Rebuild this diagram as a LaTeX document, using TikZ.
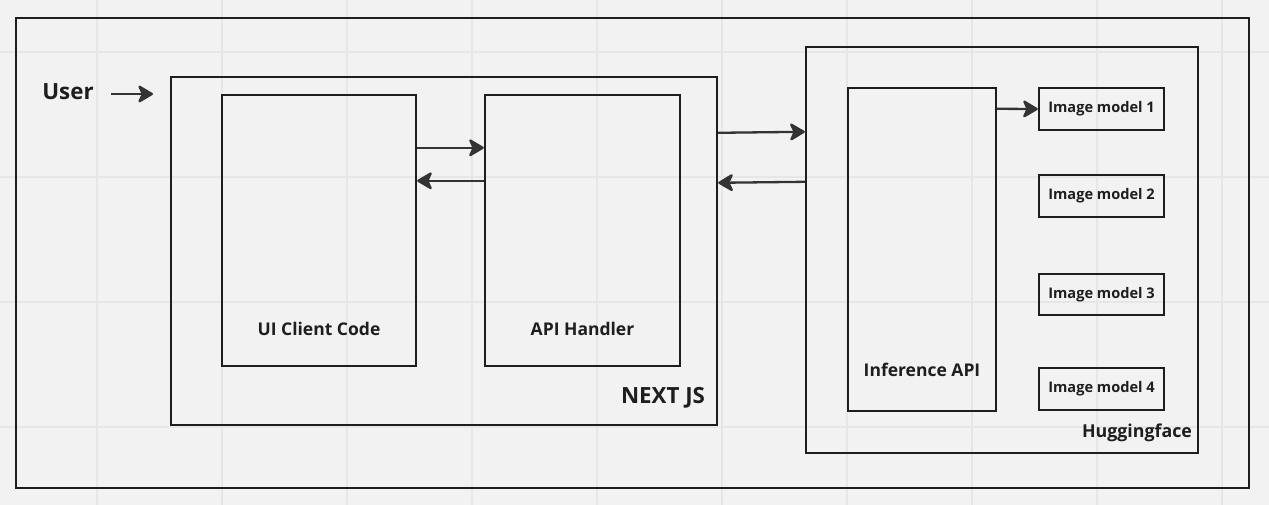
\documentclass[tikz,border=0pt]{standalone}
\usepackage{fontspec}
\setmainfont{Open Sans}
\usetikzlibrary{arrows.meta}
\definecolor{bg}{HTML}{F2F2F2}
\definecolor{gridc}{HTML}{E6E6E6}
\definecolor{ink}{HTML}{1E1E1E}
\definecolor{arr}{HTML}{333333}
\tikzset{
  box/.style={draw=ink, line width=2.4pt, rectangle, inner sep=0pt},
  lbl/.style={text=ink, font=\bfseries\fontsize{17.5}{21}\selectfont, inner sep=0pt},
  mlbl/.style={text=ink, font=\bfseries\fontsize{14.6}{17}\selectfont, inner sep=0pt},
  big/.style={text=ink, font=\bfseries\fontsize{22.3}{26}\selectfont, inner sep=0pt},
  conn/.style={draw=arr, line width=2.3pt, -{Stealth[length=17pt,width=20pt,inset=4.5pt,round]}},
}
\begin{document}
\begin{tikzpicture}[x=1pt,y=-1pt]
\fill[bg] (0,0) rectangle (1269,505);
\useasboundingbox (0,0) rectangle (1269,505);
\foreach \gx in {97,222,347,472,597,722,847,972,1097,1222} \draw[gridc, line width=1.3pt] (\gx,0) -- (\gx,505);
\foreach \gy in {52,177,302,427} \draw[gridc, line width=1.3pt] (0,\gy) -- (1269,\gy);

\node[box, minimum width=1233pt, minimum height=470pt] (outer) at (632.5,253) {};
\node[box, minimum width=546pt, minimum height=348pt] (next) at (444,251) {};
\node[box, minimum width=194pt, minimum height=271pt] (ui) at (319,230.5) {};
\node[box, minimum width=195pt, minimum height=271pt] (api) at (582.5,230.5) {};
\node[box, minimum width=392pt, minimum height=406pt] (hf) at (1002,250) {};
\node[box, minimum width=148pt, minimum height=323pt] (inf) at (922,249.5) {};
\node[box, minimum width=125pt, minimum height=42pt] (m1) at (1101.5,109) {};
\node[box, minimum width=125pt, minimum height=42pt] (m2) at (1101.5,196) {};
\node[box, minimum width=125pt, minimum height=41pt] (m3) at (1101.5,294.5) {};
\node[box, minimum width=125pt, minimum height=42pt] (m4) at (1101.5,389) {};

\node[mlbl] (m1t) at (m1) {Image model 1};
\node[mlbl] (m2t) at (m2) {Image model 2};
\node[mlbl] (m3t) at (m3) {Image model 3};
\node[mlbl] (m4t) at (m4) {Image model 4};

\node[lbl] (uit) at (319,329) {UI Client Code};
\node[lbl] (apit) at (582.5,329) {API Handler};
\node[lbl] (inft) at (922,370) {Inference API};
\node[lbl, font=\bfseries\fontsize{17.8}{21}\selectfont] (hft) at (1137,433) {Huggingface};
\node[big] (nextt) at (663,398) {NEXT JS};
\node[big] (user) at (68,92) {User};

\coordinate (ustart) at (111,94);
\coordinate (uend) at (153,94);
\draw[conn] (ustart) -- (uend);

\draw[conn] ([yshift=-54pt]ui.north east) -- ([yshift=-54pt]api.north west);
\draw[conn] ([yshift=-87pt]api.north west) -- ([yshift=-87pt]ui.north east);
\draw[conn] ([yshift=-57pt]next.north east) -- ([yshift=-86pt]hf.north west);
\draw[conn] ([yshift=-136pt]hf.north west) -- ([yshift=-107pt]next.north east);
\draw[conn] ([yshift=-22pt]inf.north east) -- (m1.west);
\end{tikzpicture}
\end{document}
